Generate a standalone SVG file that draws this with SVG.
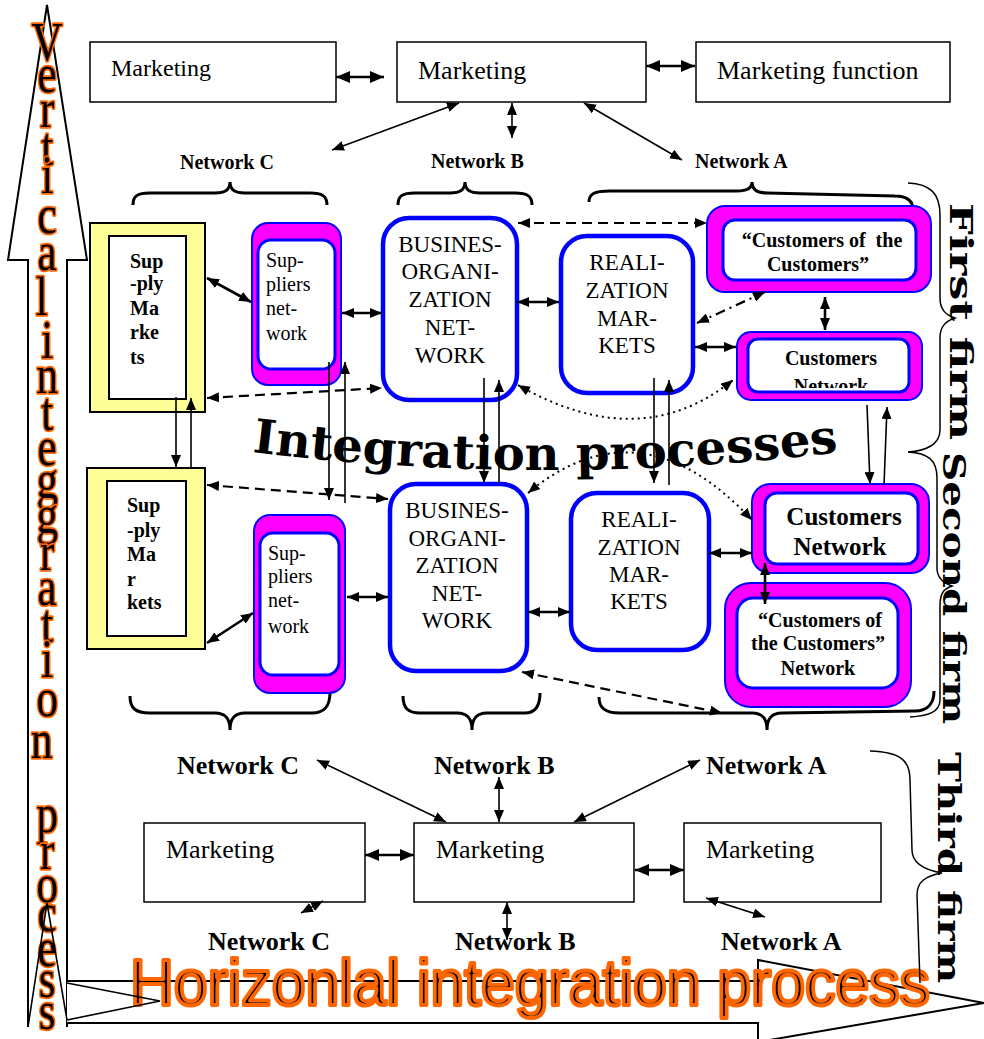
<svg xmlns="http://www.w3.org/2000/svg" width="984" height="1039" viewBox="0 0 984 1039">
<style>
.sf{font-family:"Liberation Serif","Times New Roman","DejaVu Serif",serif;fill:#000}
.mk{font-size:26px}
.nl{font-size:20px;font-weight:bold}
.nl2{font-size:26px;font-weight:bold}
.box{fill:#fff;stroke:#000;stroke-width:1.5}
.yel{fill:#FFFF99;stroke:#000;stroke-width:2}
.yin{fill:#fff;stroke:#000;stroke-width:2}
.mag{fill:#FF00FF;stroke:#0000FF;stroke-width:2}
.min{fill:#fff;stroke:#0000FF;stroke-width:3}
.mbd{fill:none;stroke:#0000FF;stroke-width:3}
.bl{fill:#fff;stroke:#0000FF;stroke-width:4.5}
.t20{font-size:20px}
.t23{font-size:23px}
.b20{font-size:20px;font-weight:bold}
.ln{fill:none;stroke:#000;stroke-width:1.6}
.tk{fill:none;stroke:#000;stroke-width:2.6}
.ds{fill:none;stroke:#000;stroke-width:2.2;stroke-dasharray:10 6}
.dd{fill:none;stroke:#000;stroke-width:2.2;stroke-dasharray:10 5 2 5}
.dt{fill:none;stroke:#000;stroke-width:2;stroke-dasharray:2 4}
.br{fill:none;stroke:#000;stroke-width:3}
.rb{fill:none;stroke:#000;stroke-width:1.5}
.two{marker-start:url(#ah);marker-end:url(#ah)}
.one{marker-end:url(#ah)}
.big{marker-start:url(#ahb);marker-end:url(#ahb)}
.vt{font-family:"Liberation Serif","Times New Roman","DejaVu Serif",serif;font-size:54px;fill:#000;stroke:#FF6600;stroke-width:3.5;paint-order:stroke;stroke-linejoin:round;text-anchor:middle}
.ht{font-family:"Liberation Sans",Arial,sans-serif;font-size:65px;fill:#000;stroke:#FF6600;stroke-width:4;stroke-linejoin:round}
.firm{font-family:"DejaVu Serif",serif;font-weight:bold;font-size:31px;fill:#000}
.ttl{font-family:"DejaVu Serif",serif;font-weight:bold;font-size:47px;fill:#000}
</style>
<defs>
<marker id="ah" viewBox="0 0 12 10" refX="12" refY="5" markerWidth="12" markerHeight="10" markerUnits="userSpaceOnUse" orient="auto-start-reverse"><path d="M0,0 L12,5 L0,10 z" fill="#000"/></marker>
<marker id="ahb" viewBox="0 0 14 12" refX="14" refY="6" markerWidth="14" markerHeight="12" markerUnits="userSpaceOnUse" orient="auto-start-reverse"><path d="M0,0 L14,6 L0,12 z" fill="#000"/></marker>
<clipPath id="cn1"><rect x="749" y="340" width="159" height="48"/></clipPath>
<path id="arc" d="M 252 452 Q 546 488 840 452"/>
</defs>

<!-- big process arrows -->
<g id="vertical-arrow">
<path d="M28,1027 L28,260 L8,260 L47,5 L87,260 L67,260 L67,1027" fill="#fff" stroke="#000" stroke-width="2"/>
</g>
<g id="horizontal-arrow">
<path d="M67,981 L758,981 L758,960 L984,1003 L758,1042 L758,1023 L67,1023" fill="#fff" stroke="#000" stroke-width="2"/>
</g>

<!-- process labels -->
<g id="vertical-label" transform="scale(0.8 1)">
<text class="vt">
<tspan x="59" y="60">V</tspan><tspan x="59" y="92">e</tspan><tspan x="59" y="127">r</tspan><tspan x="59" y="165">t</tspan><tspan x="59" y="193">i</tspan><tspan x="59" y="233">c</tspan><tspan x="59" y="270">a</tspan><tspan x="59" y="315">l</tspan>
<tspan x="59" y="358">i</tspan><tspan x="59" y="393">n</tspan><tspan x="59" y="430">t</tspan><tspan x="59" y="465">e</tspan><tspan x="59" y="498">g</tspan><tspan x="59" y="533">g</tspan><tspan x="59" y="570">r</tspan><tspan x="59" y="605">a</tspan><tspan x="59" y="642">t</tspan><tspan x="59" y="677">i</tspan><tspan x="59" y="716">o</tspan><tspan x="59" y="758">n</tspan>
<tspan x="59" y="832">p</tspan><tspan x="59" y="869">r</tspan><tspan x="59" y="902">o</tspan><tspan x="59" y="931">c</tspan><tspan x="59" y="966">e</tspan><tspan x="59" y="997">s</tspan><tspan x="59" y="1029">s</tspan>
</text>
</g>
<g id="horizontal-label">
<text class="ht" x="130" y="1005" textLength="800" lengthAdjust="spacingAndGlyphs">Horizonlal integration process</text>
</g>
<g id="arrow-notches">
<path d="M28,1027 L47,903 L67,1020" class="ln"/>
<path d="M67,983 L160,1001 L67,1020" class="ln"/>
</g>

<!-- central title -->
<g id="title-integration">
<text class="ttl"><textPath href="#arc" textLength="588" lengthAdjust="spacingAndGlyphs">Integration processes</textPath></text>
</g>

<!-- top marketing row -->
<g id="mkt-top-1"><rect x="90" y="42" width="246" height="60" class="box"/><text x="111" y="76" class="sf" font-size="24">Marketing</text></g>
<g id="mkt-top-2"><rect x="397" y="42" width="249" height="60" class="box"/><text x="418" y="79" class="sf mk">Marketing</text></g>
<g id="mkt-top-3"><rect x="696" y="42" width="254" height="60" class="box"/><text x="717" y="79" class="sf mk">Marketing function</text></g>
<g id="lbl-top">
<text x="180" y="169" class="sf nl">Network C</text>
<text x="431" y="168" class="sf nl">Network B</text>
<text x="695" y="168" class="sf nl">Network A</text>
</g>

<!-- braces -->
<g id="braces">
<path class="br" d="M133,205 C133,196 137,193 150,193 L215,193 C225,193 230,190 230,182 C230,190 235,193 245,193 L310,193 C322,193 327,196 327,205"/>
<path class="br" d="M398,205 C398,196 402,193 415,193 L450,193 C460,193 465,190 465,182 C465,190 470,193 480,193 L515,193 C527,193 532,196 532,205"/>
<path class="br" d="M589,202 C589,194 594,191 610,191 L737,191 C747,191 752,188 752,182 C752,189 757,193 767,193 L895,196 C908,196 913,201 913,210"/>
<path class="br" d="M130,696 C130,708 135,713 150,713 L215,713 C225,713 230,718 230,730 C230,718 235,713 245,713 L312,713 C325,713 330,706 330,692"/>
<path class="br" d="M403,696 C403,708 408,713 420,713 L457,713 C467,713 472,718 472,730 C472,718 477,713 487,713 L525,713 C535,713 540,706 540,693"/>
<path class="br" d="M599,697 C599,708 605,713 620,713 L752,713 C762,713 767,718 767,730 C767,718 772,713 782,713 L915,711 C928,711 934,703 934,691"/>
<path class="rb" d="M908,183 C930,184 940,193 940,215 L940,298 C940,310 946,315 955,318 C946,321 940,326 940,338 L940,430 C940,445 925,451 908,452"/>
<path class="rb" d="M908,452 C928,453 937,460 937,478 L937,568 C937,578 943,583 952,586 C943,589 940,594 940,606 L940,700 C940,712 928,716 910,717"/>
<path class="rb" d="M870,751 C900,752 910,760 910,780 L912,850 C912,863 925,870 942,873 C925,876 917,882 917,895 L920,983"/>
</g>

<!-- supply markets -->
<g id="supply-1"><rect x="90" y="223" width="115" height="189" class="yel"/><rect x="109" y="236" width="77" height="163" class="yin"/>
<text class="sf b20"><tspan x="130" y="268">Sup</tspan><tspan x="130" y="290">-ply</tspan><tspan x="130" y="315">Ma</tspan><tspan x="130" y="339">rke</tspan><tspan x="130" y="364">ts</tspan></text></g>
<g id="supply-2"><rect x="87" y="468" width="118" height="181" class="yel"/><rect x="107" y="481" width="79" height="155" class="yin"/>
<text class="sf b20"><tspan x="127" y="512">Sup</tspan><tspan x="127" y="537">-ply</tspan><tspan x="127" y="561">Ma</tspan><tspan x="127" y="586">r</tspan><tspan x="127" y="609">kets</tspan></text></g>

<!-- suppliers network -->
<g id="suppliers-1"><rect x="252" y="223" width="89" height="162" rx="16" class="mag"/><rect x="258" y="240" width="77" height="129" rx="13" class="min"/>
<text class="sf t20"><tspan x="266" y="267">Sup-</tspan><tspan x="266" y="291">pliers</tspan><tspan x="266" y="315">net-</tspan><tspan x="266" y="340">work</tspan></text></g>
<g id="suppliers-2"><rect x="254" y="515" width="91" height="178" rx="16" class="mag"/><rect x="260" y="533" width="79" height="142" rx="13" class="min"/>
<text class="sf t20"><tspan x="268" y="560">Sup-</tspan><tspan x="268" y="583">pliers</tspan><tspan x="268" y="607">net-</tspan><tspan x="268" y="633">work</tspan></text></g>

<!-- business organization -->
<g id="business-1"><rect x="383" y="218" width="134" height="182" rx="26" class="bl"/>
<text class="sf t23" text-anchor="middle"><tspan x="450" y="252">BUSINES-</tspan><tspan x="450" y="279">ORGANI-</tspan><tspan x="450" y="307">ZATION</tspan><tspan x="450" y="335">NET-</tspan><tspan x="450" y="363">WORK</tspan></text></g>
<g id="business-2"><rect x="390" y="484" width="137" height="187" rx="26" class="bl"/>
<text class="sf t23" text-anchor="middle"><tspan x="457" y="518">BUSINES-</tspan><tspan x="457" y="546">ORGANI-</tspan><tspan x="457" y="573">ZATION</tspan><tspan x="457" y="601">NET-</tspan><tspan x="457" y="628">WORK</tspan></text></g>

<!-- realization markets -->
<g id="realization-1"><rect x="561" y="236" width="132" height="157" rx="26" class="bl"/>
<text class="sf t23" text-anchor="middle"><tspan x="627" y="270">REALI-</tspan><tspan x="627" y="298">ZATION</tspan><tspan x="627" y="326">MAR-</tspan><tspan x="627" y="353">KETS</tspan></text></g>
<g id="realization-2"><rect x="571" y="493" width="138" height="157" rx="26" class="bl"/>
<text class="sf t23" text-anchor="middle"><tspan x="639" y="527">REALI-</tspan><tspan x="639" y="555">ZATION</tspan><tspan x="639" y="582">MAR-</tspan><tspan x="639" y="609">KETS</tspan></text></g>

<!-- customers -->
<g id="coc-1"><rect x="707" y="206" width="224" height="86" rx="18" class="mag"/><rect x="723" y="220" width="193" height="60" rx="12" class="min"/>
<text class="sf b20" text-anchor="middle"><tspan x="822" y="247">“Customers of&#160; the</tspan><tspan x="818" y="271">Customers”</tspan></text></g>
<g id="custnet-1"><rect x="737" y="332" width="185" height="68" rx="14" class="mag"/><rect x="748" y="339" width="161" height="53" rx="10" fill="#fff"/>
<text class="sf b20" text-anchor="middle" clip-path="url(#cn1)"><tspan x="831" y="365">Customers</tspan><tspan x="831" y="393">Network</tspan></text>
<rect x="748" y="339" width="161" height="53" rx="10" class="mbd"/></g>
<g id="custnet-2"><rect x="752" y="484" width="177" height="89" rx="18" class="mag"/><rect x="765" y="493" width="153" height="71" rx="12" class="min"/>
<text class="sf" font-size="25" font-weight="bold" text-anchor="middle"><tspan x="844" y="525">Customers</tspan><tspan x="840" y="555">Network</tspan></text></g>
<g id="coc-2"><rect x="725" y="583" width="186" height="124" rx="26" class="mag"/><rect x="737" y="598" width="161" height="90" rx="16" class="min"/>
<text class="sf b20" text-anchor="middle"><tspan x="820" y="627">“Customers of</tspan><tspan x="818" y="650">the Customers”</tspan><tspan x="818" y="675">Network</tspan></text></g>

<!-- bottom marketing row -->
<g id="mkt-bot-1"><rect x="144" y="823" width="221" height="79" class="box"/><text x="166" y="858" class="sf mk">Marketing</text></g>
<g id="mkt-bot-2"><rect x="414" y="823" width="220" height="79" class="box"/><text x="436" y="858" class="sf mk">Marketing</text></g>
<g id="mkt-bot-3"><rect x="684" y="823" width="197" height="79" class="box"/><text x="706" y="858" class="sf mk">Marketing</text></g>
<g id="lbl-bot">
<text x="177" y="774" class="sf nl2">Network C</text>
<text x="434" y="774" class="sf nl2">Network B</text>
<text x="706" y="774" class="sf nl2">Network A</text>
<text x="208" y="950" class="sf nl2">Network C</text>
<text x="455" y="950" class="sf nl2">Network B</text>
<text x="721" y="950" class="sf nl2">Network A</text>
</g>

<!-- connectors -->
<g id="connectors">
<path class="tk big" d="M336,77 L384,77"/>
<path class="tk big" d="M646,66 L695,66"/>
<path class="ln two" d="M459,103 L332,150"/>
<path class="ln two" d="M512,103 L512,138"/>
<path class="ln two" d="M584,103 L682,160"/>

<path class="tk two" d="M207,278 L251,302"/>
<path class="tk two" d="M342,313 L382,313"/>
<path class="tk two" d="M517,302 L559,302"/>
<path class="tk two" d="M695,347 L736,347"/>
<path class="tk two" d="M825,297 L825,330"/>
<path class="dd two" d="M765,292 L697,323"/>
<path class="ds two" d="M518,223 L707,223"/>
<path class="ds two" d="M207,398 L382,388"/>
<path class="ln one" d="M176,397 L176,467"/>
<path class="ln one" d="M191,467 L191,398"/>
<path class="ln one" d="M329,362 L329,500"/>
<path class="ln one" d="M345,503 L345,362"/>
<path class="ln one" d="M484,378 L484,483"/>
<path class="ln one" d="M499,483 L499,380"/>
<path class="ln one" d="M654,378 L654,483"/>
<path class="ln one" d="M669,485 L669,380"/>
<path class="ln one" d="M867,405 L870,484"/>
<path class="ln one" d="M884,485 L887,407"/>
<path class="ds two" d="M207,485 L388,499"/>
<path class="tk two" d="M207,643 L253,613"/>
<path class="tk two" d="M347,597 L388,597"/>
<path class="tk two" d="M528,612 L570,612"/>
<path class="tk two" d="M709,553 L752,553"/>
<path class="tk two" d="M765,563 L765,604"/>
<path class="ds two" d="M522,672 L722,713"/>
<path class="dt two" d="M518,385 Q640,455 733,380"/>
<path class="dt two" d="M528,493 Q640,400 752,520"/>

<path class="tk big" d="M365,855 L414,855"/>
<path class="tk big" d="M635,870 L684,870"/>
<path class="ln two" d="M446,822 L317,760"/>
<path class="ln two" d="M499,777 L499,822"/>
<path class="ln two" d="M574,822 L700,760"/>
<path class="ln two" d="M301,913 L323,901"/>
<path class="ln two" d="M507,902 L507,940"/>
<path class="ln two" d="M706,898 L765,917"/>
</g>

<!-- firm labels -->
<g id="firm-labels">
<text class="firm" transform="translate(950,203) rotate(90)" textLength="237" lengthAdjust="spacingAndGlyphs">First firm</text>
<text class="firm" transform="translate(943,452) rotate(90)" textLength="272" lengthAdjust="spacingAndGlyphs">Second firm</text>
<text class="firm" transform="translate(938,752) rotate(90)" textLength="231" lengthAdjust="spacingAndGlyphs">Third firm</text>
</g>
</svg>
